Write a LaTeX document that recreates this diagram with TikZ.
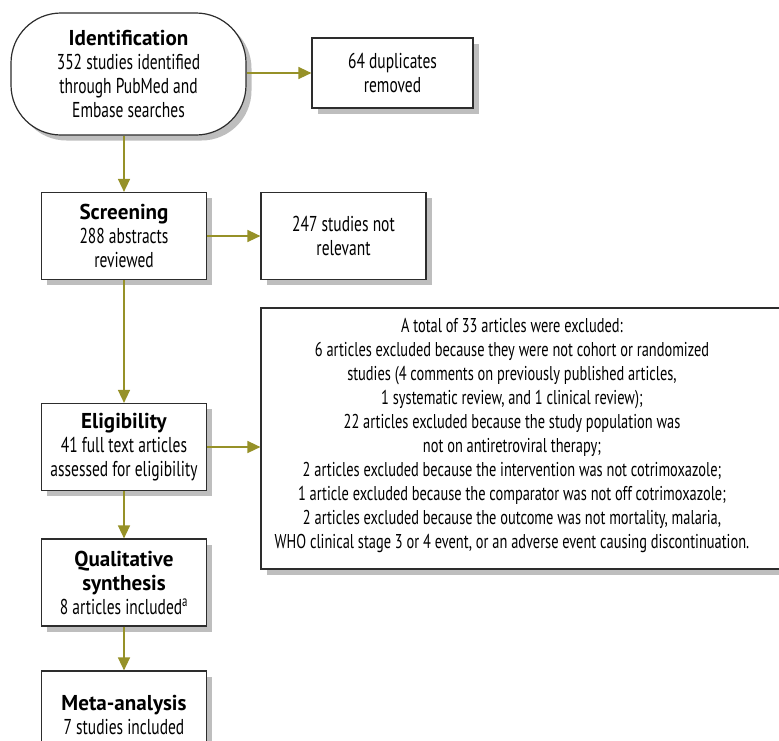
\documentclass[tikz,border=0pt]{standalone}
\usepackage{fontspec}
\setmainfont{PT Sans}[FakeStretch=0.72,BoldFeatures={FakeStretch=0.98}]
\usetikzlibrary{arrows.meta,positioning}
\definecolor{arrowolive}{RGB}{150,145,40}
\definecolor{boxline}{RGB}{45,45,45}
\definecolor{shadowgray}{RGB}{190,190,190}
\tikzset{
  stagebox/.style={draw=boxline,line width=1.2pt,fill=white,align=center,inner sep=2pt,
    font=\fontsize{21.5}{24}\selectfont,minimum width=165pt,minimum height=87pt},
  startbox/.style={stagebox,rounded corners=50pt,minimum width=235pt,minimum height=122pt},
  notetext/.style={align=center,inner sep=0pt,font=\fontsize{20}{24}\selectfont},
  flow/.style={-{Triangle[length=13pt,width=12pt]},arrowolive,line width=1.5pt},
  boxshadow/.style={fill=shadowgray,draw=none},
}
\newcommand{\stagehead}[1]{\textbf{#1}}

\begin{document}
\begin{tikzpicture}[x=1pt,y=-1pt]
  \useasboundingbox (0,0) rectangle (779,740);
  % shadows (offset 5.5 right and down)
  \path[boxshadow,rounded corners=50pt] (16.5,18.5) rectangle (251.5,140.5);
  \foreach \cx/\cy/\w/\h in {124/236/165/87,124/447/165/87,124/582.5/165/87,124/714.5/165/87,
      392.5/73/161/70,343.5/236/165/87,531/438.5/540/261}
    \path[boxshadow] (\cx-\w/2+5.5,\cy-\h/2+5.5) rectangle (\cx+\w/2+5.5,\cy+\h/2+5.5);
  % main column
  \node[startbox] (ident) at (128.5,74) {\stagehead{Identification}\\352 studies identified\\through PubMed and\\Embase searches};
  \node[stagebox] (screen) at (124,236) {\stagehead{Screening}\\288 abstracts\\reviewed};
  \node[stagebox] (elig) at (124,447) {\stagehead{Eligibility}\\41 full text articles\\assessed for eligibility};
  \node[stagebox] (qual) at (124,582.5) {\stagehead{Qualitative}\\\stagehead{synthesis}\\8 articles included\textsuperscript{a}};
  \node[stagebox] (meta) at (124,714.5) {\stagehead{Meta-analysis}\\7 studies included};
  % side boxes
  \node[stagebox,minimum width=161pt,minimum height=70pt] (dupl) at (392.5,73) {64 duplicates\\removed};
  \node[stagebox] (irrel) at (343.5,236) {247 studies not\\relevant};
  \node[stagebox,minimum width=540pt,minimum height=261pt] (excl) at (531,438.5) {};
  \node[notetext] (excltext) at (512,435) {A total of 33 articles were excluded:\\
    6 articles excluded because they were not cohort or randomized\\
    studies (4 comments on previously published articles,\\
    1 systematic review, and 1 clinical review);\\
    22 articles excluded because the study population was\\
    not on antiretroviral therapy;\\
    2 articles excluded because the intervention was not cotrimoxazole;\\
    1 article excluded because the comparator was not off cotrimoxazole;\\
    2 articles excluded because the outcome was not mortality, malaria,\\
    WHO clinical stage 3 or 4 event, or an adverse event causing discontinuation.};
  % arrows
  \draw[flow] (ident.south -| screen.north) -- (screen.north);
  \draw[flow] (screen.south) -- (elig.north);
  \draw[flow] (elig.south) -- (qual.north);
  \draw[flow] (qual.south) -- (meta.north);
  \draw[flow] (ident.east |- dupl.west) -- (dupl.west);
  \draw[flow] (screen.east) -- (irrel.west);
  \draw[flow] (elig.east) -- (elig.east -| excl.west);
\end{tikzpicture}
\end{document}
